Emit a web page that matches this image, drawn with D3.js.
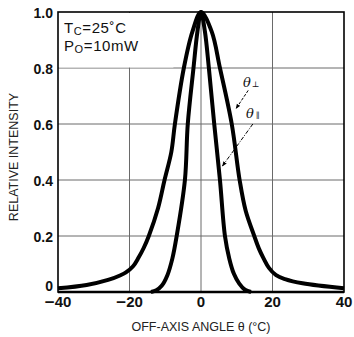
<!DOCTYPE html>
<html>
<head>
<meta charset="utf-8">
<script src="https://cdn.jsdelivr.net/npm/d3@7"></script>
<style>
	body { margin: 0; background: #fff; }
	svg { display: block; font-family: "Liberation Sans", Arial, sans-serif; }
	.grid line { stroke: #6a6a6a; stroke-width: 1; }
	.tickLabel { font-size: 14px; font-weight: bold; fill: #111; }
	.xTick { font-size: 15px; }
	.axisTitle { font-size: 12.5px; fill: #222; }
	.curve { fill: none; stroke: #000; stroke-width: 4; stroke-linejoin: round; }
</style>
</head>
<body>
<div id="chart"></div>
<script>

// values
var xTicks = [-40, -20, 0, 20, 40];
var yTicks = [0, 0.2, 0.4, 0.6, 0.8, 1.0];
var xTickLabels = ["40", "20", "0", "20", "40"];
var yTickLabels = ["0", "0.2", "0.4", "0.6", "0.8", "1.0"];

// theta perpendicular (wide curve)
var perpAngle = [-40, -32, -26, -22.5, -21, -19, -17.5, -16, -14.6, -12, -10.2, -8.3, -7.3, -4.8, -2.4, 0, 3.0, 5.3, 8.6, 10.8, 12.5, 14.9, 16.2, 17.5, 19, 21, 23.5, 28.4, 40];
var perpValue = [0.013, 0.025, 0.043, 0.06, 0.07, 0.092, 0.122, 0.158, 0.2, 0.3, 0.4, 0.5, 0.6, 0.8, 0.93, 1.0, 0.93, 0.8, 0.6, 0.4, 0.29, 0.2, 0.155, 0.12, 0.086, 0.06, 0.046, 0.031, 0.013];

// theta parallel (narrow curve)
var paraAngle = [-14, -12.5, -11, -9.4, -8, -6.8, -4.5, -3.7, -2.1, -1.0, 0, 1.1, 2.2, 3.7, 5.3, 6.7, 7.9, 9.2, 10.7, 12.3, 14];
var paraValue = [0.0, 0.006, 0.022, 0.06, 0.12, 0.2, 0.4, 0.6, 0.8, 0.93, 1.0, 0.93, 0.8, 0.6, 0.4, 0.2, 0.12, 0.065, 0.03, 0.008, 0.0];

var W = 354, H = 337;
var plotL = 58, plotR = 344, plotT = 12, plotB = 292;

var svg = d3.select("#chart").append("svg")
	.attr("width", W).attr("height", H);

var x = d3.scaleLinear().domain([-40, 40]).range([plotL, plotR]);
var y = d3.scaleLinear().domain([0, 1]).range([plotB, plotT]);

// grid
var grid = svg.append("g").attr("class", "grid");
grid.selectAll(".gx").data(xTicks.slice(1, -1)).enter().append("line")
	.attr("x1", d => x(d)).attr("x2", d => x(d))
	.attr("y1", plotT).attr("y2", plotB);
grid.selectAll(".gy").data(yTicks.slice(1, -1)).enter().append("line")
	.attr("x1", plotL).attr("x2", plotR)
	.attr("y1", d => y(d)).attr("y2", d => y(d));

// white box behind the conditions text
svg.append("rect")
	.attr("x", x(-40) + 1).attr("y", y(1) + 1)
	.attr("width", x(-8) - x(-40)).attr("height", y(0.8) - y(1) - 1.5)
	.attr("fill", "#fff");

// frame
svg.append("rect")
	.attr("x", plotL).attr("y", plotT)
	.attr("width", plotR - plotL).attr("height", plotB - plotT)
	.attr("fill", "none").attr("stroke", "#000").attr("stroke-width", 1.6);

// curves
var line = d3.line()
	.x(d => x(d[0])).y(d => y(d[1]))
	.curve(d3.curveCatmullRom.alpha(0.5));

svg.append("path").attr("class", "curve")
	.attr("d", line(d3.zip(perpAngle, perpValue)));
svg.append("path").attr("class", "curve")
	.attr("d", line(d3.zip(paraAngle, paraValue)));

svg.append("line")
	.attr("x1", plotL).attr("x2", plotR)
	.attr("y1", plotB).attr("y2", plotB)
	.attr("stroke", "#000").attr("stroke-width", 2.4);

// tick labels
svg.selectAll(".yl").data(yTicks).enter().append("text")
	.attr("class", "tickLabel")
	.attr("x", plotL - 5)
	.attr("y", d => y(d) + (d == 0 ? -1 : 6))
	.attr("text-anchor", "end")
	.text((d, i) => yTickLabels[i]);

var xl = svg.selectAll(".xl").data(xTicks).enter().append("text")
	.attr("class", "tickLabel xTick")
	.attr("x", d => x(d))
	.attr("y", plotB + 15)
	.attr("text-anchor", "middle");
xl.filter(d => d < 0).append("tspan")
	.attr("font-size", "17px").attr("dy", 1).text("\u2212");
xl.append("tspan")
	.attr("dy", d => d < 0 ? -1 : 0)
	.text((d, i) => xTickLabels[i]);

// axis titles
svg.append("text").attr("class", "axisTitle")
	.attr("x", x(0)).attr("y", 331)
	.attr("text-anchor", "middle")
	.text("OFF-AXIS ANGLE \u03b8 (\u00b0C)");

svg.append("text").attr("class", "axisTitle")
	.attr("transform", "translate(18,157) rotate(-90)")
	.attr("text-anchor", "middle")
	.text("RELATIVE INTENSITY");

// conditions
var cond = svg.append("g").attr("font-size", "15px").attr("fill", "#111").attr("letter-spacing", "0.6px");
var t1 = cond.append("text").attr("x", 64).attr("y", 33);
t1.append("tspan").text("T");
t1.append("tspan").attr("font-size", "11px").attr("dy", 2).text("C");
t1.append("tspan").attr("dy", -2).text("=25\u02daC");
var t2 = cond.append("text").attr("x", 64).attr("y", 51);
t2.append("tspan").text("P");
t2.append("tspan").attr("font-size", "11px").attr("dy", 2).text("O");
t2.append("tspan").attr("dy", -2).text("=10mW");

// curve labels and arrows
svg.append("defs").append("marker")
	.attr("id", "arrow").attr("viewBox", "0 0 10 10")
	.attr("refX", 9).attr("refY", 5)
	.attr("markerWidth", 5).attr("markerHeight", 5)
	.attr("orient", "auto")
	.append("path").attr("d", "M0,1 L10,5 L0,9 Z").attr("fill", "#000");

var lab = svg.append("g").attr("font-family", "'DejaVu Serif', serif").attr("fill", "#111");
var l1 = lab.append("text").attr("x", 243).attr("y", 87).attr("font-size", "13px").attr("font-style", "italic");
l1.append("tspan").text("\u03b8");
l1.append("tspan").attr("font-size", "8px").attr("font-style", "normal").attr("dx", 1).text("\u22a5");
var l2 = lab.append("text").attr("x", 246).attr("y", 118).attr("font-size", "13px").attr("font-style", "italic");
l2.append("tspan").text("\u03b8");
l2.append("tspan").attr("font-size", "8px").attr("font-style", "normal").attr("dx", 2).text("\u2225");

svg.append("line")
	.attr("x1", x(13.2)).attr("y1", y(0.72))
	.attr("x2", x(9.8)).attr("y2", y(0.655))
	.attr("stroke", "#000").attr("stroke-width", 1).attr("stroke-dasharray", "3,1.5")
	.attr("marker-end", "url(#arrow)");
svg.append("line")
	.attr("x1", x(14.5)).attr("y1", y(0.6))
	.attr("x2", x(6.0)).attr("y2", y(0.45))
	.attr("stroke", "#000").attr("stroke-width", 1).attr("stroke-dasharray", "4,1.5,1,1.5")
	.attr("marker-end", "url(#arrow)");

</script>
</body>
</html>
